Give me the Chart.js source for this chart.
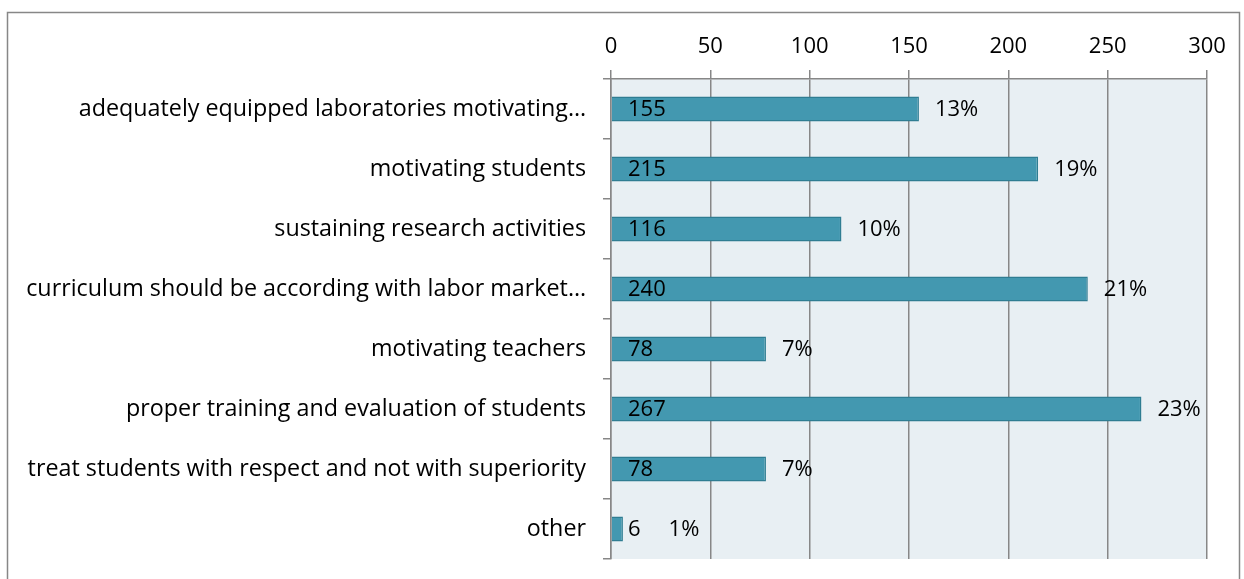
<!DOCTYPE html>
<html><head><meta charset="utf-8">
<script src="https://cdn.jsdelivr.net/npm/chart.js@4.4.0/dist/chart.umd.min.js"></script>
<style>html,body{margin:0;padding:0;background:#fff}#wrap{width:1244px;height:579px;position:relative}</style>
</head><body><div id="wrap"><canvas id="c" width="1244" height="579"></canvas></div>
<script>
const categories = [
  "adequately equipped laboratories motivating\u2026",
  "motivating students",
  "sustaining research activities",
  "curriculum should be according with labor market\u2026",
  "motivating teachers",
  "proper training and evaluation of students",
  "treat students with respect and not with superiority",
  "other"
];
const counts = [155, 215, 116, 240, 78, 267, 78, 6];
const percents = ["13%", "19%", "10%", "21%", "7%", "23%", "7%", "1%"];
const xTicks = [0, 50, 100, 150, 200, 250, 300];

const FONT = "'Open Sans', sans-serif";
const FS_LABEL = 23.3;
const FS_NUM = 22;

const decor = {
  id: 'decor',
  beforeDraw(chart) {
    const {ctx, chartArea: a} = chart;
    ctx.save();
    ctx.fillStyle = '#E8EFF3';
    ctx.fillRect(a.left, a.top, a.right - a.left, a.bottom - a.top);
    ctx.strokeStyle = '#878787';
    ctx.lineWidth = 1.5;
    ctx.strokeRect(7.5, 12.5, 1232, 700);
    ctx.restore();
  },
  afterDatasetsDraw(chart) {
    const {ctx} = chart;
    const meta = chart.getDatasetMeta(0);
    const xs = chart.scales.x;
    ctx.save();
    ctx.fillStyle = '#000';
    ctx.font = FS_NUM + 'px ' + FONT;
    ctx.textBaseline = 'middle';
    ctx.textAlign = 'left';
    meta.data.forEach((bar, i) => {
      const base = xs.getPixelForValue(0);
      const vx = base + 17;
      const txt = String(counts[i]);
      ctx.fillText(txt, vx, bar.y + 1);
      const vRight = vx + ctx.measureText(txt).width;
      const px = Math.max(bar.x + 16, vRight + 28);
      ctx.fillText(percents[i], px, bar.y + 1);
    });
    ctx.restore();
  }
};

new Chart(document.getElementById('c'), {
  type: 'bar',
  data: {
    labels: categories,
    datasets: [{
      data: counts,
      backgroundColor: '#4398B0',
      borderColor: '#2F7D92',
      borderWidth: 1.5,
      barPercentage: 0.42,
      categoryPercentage: 1
    }]
  },
  options: {
    indexAxis: 'y',
    responsive: false,
    maintainAspectRatio: false,
    animation: false,
    layout: {autoPadding: false, padding: {left: 0, right: 37, top: 0, bottom: 20}},
    plugins: {legend: {display: false}, tooltip: {enabled: false}},
    scales: {
      x: {
        position: 'top',
        min: 0, max: 300,
        afterBuildTicks(s) { s.ticks = xTicks.map(v => ({value: v})); },
        afterFit(s) { s.height = 79; s.paddingLeft = 0; s.paddingRight = 0; },
        ticks: {color: '#000', font: {family: FONT, size: FS_NUM}, padding: 10},
        grid: {color: '#878787', lineWidth: 1.5, tickLength: 9, drawOnChartArea: true},
        border: {display: true, color: '#878787', width: 1.5}
      },
      y: {
        afterFit(s) { s.width = 611; s.paddingTop = 0; s.paddingBottom = 0; },
        ticks: {color: '#000', font: {family: FONT, size: FS_LABEL}, padding: 17, autoSkip: false},
        grid: {offset: true, drawOnChartArea: false, color: '#878787', lineWidth: 1.5, tickLength: 8},
        border: {display: true, color: '#878787', width: 1.5}
      }
    }
  },
  plugins: [decor]
});
</script>
</body></html>
